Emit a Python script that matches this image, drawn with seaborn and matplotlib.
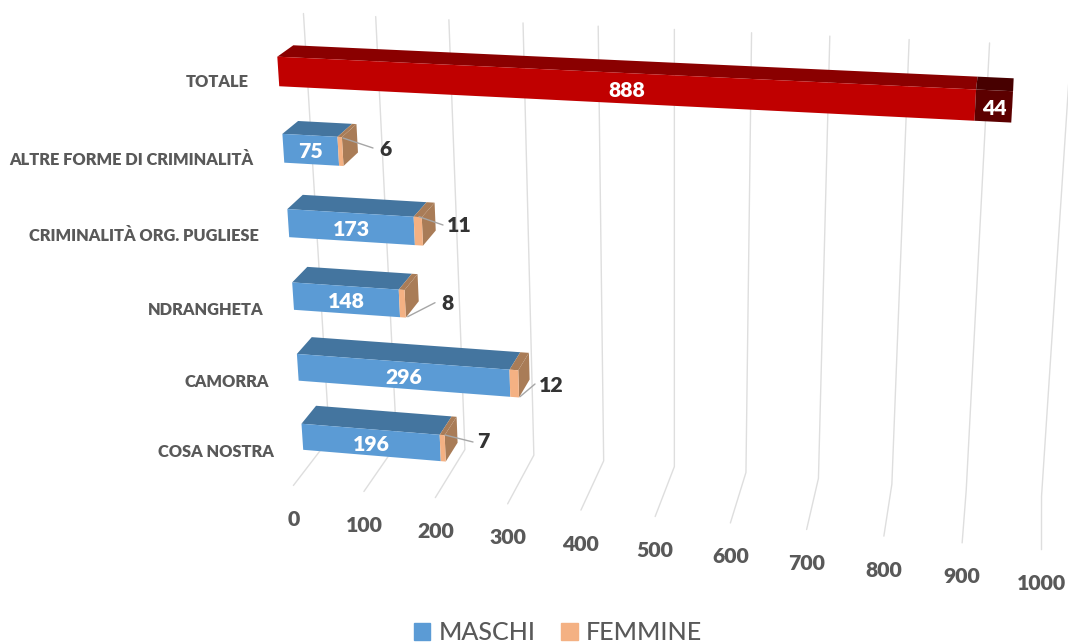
import numpy as np
import pandas as pd
import matplotlib
matplotlib.use('Agg')
import matplotlib.pyplot as plt
import seaborn as sns
from matplotlib.patches import Patch
from matplotlib.transforms import Affine2D, Transform

# Dati del grafico (dal basso verso l'alto)
categorie = ['COSA NOSTRA', 'CAMORRA', 'NDRANGHETA', 'CRIMINALITÀ ORG. PUGLIESE',
             'ALTRE FORME DI CRIMINALITÀ', 'TOTALE']
maschi = [196, 296, 148, 173, 75, 888]
femmine = [7, 12, 8, 11, 6, 44]
tacche = [0, 100, 200, 300, 400, 500, 600, 700, 800, 900, 1000]

# Colori: fronte, faccia superiore, fianco
col_maschi = ['#5B9BD5'] * 5 + ['#C00000']
col_maschi_top = ['#44759F'] * 5 + ['#8A0000']
col_femmine = ['#F4B183'] * 5 + ['#5C0000']
col_femmine_top = ['#A97C57'] * 5 + ['#470000']
col_femmine_lato = ['#A97C57'] * 5 + ['#470000']

# Profondità delle barre nella scatola 3D e spessore
Z_FRONTE, Z_RETRO = 0.3, 0.7
SPESSORE = 0.38

# Punti di calibrazione della prospettiva: valore, riga, profondità -> pixel
griglia_alto = [(0, 303, 14), (100, 376, 17), (200, 449, 20), (300, 523, 22.7), (800, 909, 40), (900, 989.3, 43)]
griglia_angolo = [(200, 464.3, 450), (300, 534, 456), (400, 603.3, 460.6), (500, 674, 466.7), (600, 745.7, 473.4),
                  (700, 818.5, 479.5), (800, 892, 482.5), (900, 967, 488), (1000, 1041.7, 497.6)]
griglia_piede = [(0, 293.3, 485), (100, 363.3, 491.7), (200, 435, 497.3), (300, 507.7, 503.3), (400, 581, 510.4),
                 (500, 655, 517.2), (600, 730, 523.6), (700, 806.7, 530.3), (800, 883.8, 536.4), (900, 961.5, 543),
                 (1000, 1041, 549.8)]
# per riga: fronte alto-sx, fronte basso-sx, fronte alto-dx, fronte basso-dx, retro alto-sx, retro alto-dx
angoli_barre = [
    [(301.7, 423.3), (302.7, 450), (445.7, 434), (446, 461.7), (316.7, 406), (456, 416.7)],
    [(297, 353.3), (298.3, 381.7), (519, 369.3), (520, 397), (312.7, 337.3), (528.7, 352.7)],
    [(292.3, 282.3), (293.7, 310.7), (405, 289), (406, 317.7), (307.3, 266.7), (417, 274)],
    [(287.3, 208.3), (289, 237.3), (423.3, 217.3), (423.3, 246), (303.3, 195), (434.3, 202.3)],
    [(282.3, 133.3), (284, 163.3), (341.7, 136.7), (343.3, 166.7), (297.7, 120.7), (356, 124)],
    [(277.3, 56), (279, 87.3), (1013, 90.7), (1011.7, 123.3), (293, 45), (1013.7, 77.7)],
]

# Etichette esterne e linee guida, in pixel
pos_esterne = [(483, 442), (551, 385), (448, 304), (459, 226), (385, 149)]
guida_da = [(445, 435), (520, 396.7), (407.7, 316.7), (419, 216.7), (343, 138)]
guida_a = [(473, 442), (535, 384), (435, 302.7), (443, 225), (373, 148)]


def calibra():
    punti = []
    for v, u, w in griglia_alto:
        punti.append((v, 6, 1, u, w))
    for v, u, w in griglia_angolo:
        punti.append((v, 0, 1, u, w))
    for v, u, w in griglia_piede:
        punti.append((v, 0, 0, u, w))
    for i, ang in enumerate(angoli_barre):
        tot = maschi[i] + femmine[i]
        su, giu = i + 0.5 + SPESSORE / 2, i + 0.5 - SPESSORE / 2
        terne = [(0, su, Z_FRONTE), (0, giu, Z_FRONTE), (tot, su, Z_FRONTE), (tot, giu, Z_FRONTE),
                 (0, su, Z_RETRO), (tot, su, Z_RETRO)]
        for (v, y, z), (u, w) in zip(terne, ang):
            punti.append((v, y, z, u, w))
    righe = []
    for v, y, z, u, w in punti:
        X = [v / 1000, y / 6, z, 1]
        u, w = u / 1000, w / 1000
        righe.append(X + [0, 0, 0, 0] + [-u * a for a in X])
        righe.append([0, 0, 0, 0] + X + [-w * a for a in X])
    return np.linalg.svd(np.array(righe))[2][-1].reshape(3, 4)


P = calibra()


def proietta(v, y, z):
    v, y, z = np.broadcast_arrays(np.asarray(v, float), np.asarray(y, float), np.asarray(z, float))
    X = np.stack([v / 1000, y / 6, z, np.ones_like(v)])
    q = P @ X
    return 1000 * q[0] / q[2], 1000 * q[1] / q[2]


class Prospettiva(Transform):
    input_dims = 2
    output_dims = 2

    def __init__(self, z):
        super().__init__()
        self.z = z

    def transform_non_affine(self, values):
        x, y = proietta(values[:, 0], values[:, 1] + 0.5, self.z)
        return np.column_stack([x, y])


sns.set_theme(style='white')
plt.rcParams['font.family'] = 'Lato'

fig, ax = plt.subplots(figsize=(10.68, 6.43), dpi=100)
ax.axis('off')
pix = Affine2D().scale(1, -1).translate(0, 643)

# Griglia: parete di fondo e pavimento
for t in tacche:
    xs, ys = proietta([t, t, t], [6, 0, 0], [1, 1, 0])
    ax.plot(xs, ys, color='#DEDEDE', lw=1, transform=pix, clip_on=False, zorder=0)
    ax.text(xs[2], ys[2] + 34, str(t), transform=pix, ha='center', va='center',
            fontsize=15.3, fontweight='heavy', color='#595959')

df = pd.DataFrame({'categoria': categorie, 'maschi': maschi, 'femmine': femmine})
sns.barplot(data=df, x='maschi', y='categoria', hue='categoria', order=categorie, hue_order=categorie,
            palette=col_maschi, width=SPESSORE, orient='h', legend=False, ax=ax, saturation=1)
n_maschi = len(ax.patches)
sns.barplot(data=df, x='femmine', y='categoria', hue='categoria', order=categorie, hue_order=categorie,
            palette=col_femmine, width=SPESSORE, orient='h', legend=False, ax=ax, saturation=1)

# Impila le femmine sopra i maschi
for b in ax.patches[n_maschi:]:
    b.set_x(maschi[int(round(b.get_y() + b.get_height() / 2))])

# Facce laterali e superiori a partire dalle barre di seaborn
for k, b in enumerate(ax.patches):
    riga = int(round(b.get_y() + b.get_height() / 2))
    b.set_transform(Prospettiva(Z_FRONTE) + pix)
    b.set_clip_on(False)
    b.set_zorder(3)
    b.set_linewidth(0)
    x0, x1 = b.get_x(), b.get_x() + b.get_width()
    su, giu = riga + 0.5 + SPESSORE / 2, riga + 0.5 - SPESSORE / 2
    e_maschi = k < n_maschi
    col_top = col_maschi_top[riga] if e_maschi else col_femmine_top[riga]
    xs, ys = proietta([x0, x1, x1, x0], su, [Z_FRONTE, Z_FRONTE, Z_RETRO, Z_RETRO])
    ax.fill(xs, ys, color=col_top, lw=0, transform=pix, clip_on=False, zorder=2)
    if not e_maschi:
        xs, ys = proietta(x1, [giu, su, su, giu], [Z_FRONTE, Z_FRONTE, Z_RETRO, Z_RETRO])
        ax.fill(xs, ys, color=col_femmine_lato[riga], lw=0, transform=pix, clip_on=False, zorder=2)

# Etichette di categoria e valori
for i, nome in enumerate(categorie):
    x, y = proietta(0, i + 0.5, 0)
    ax.text(x - 17.5, y + 1.5, nome, transform=pix, ha='right', va='center',
            fontsize=11.75, fontweight='heavy', color='#595959')
    # centro del segmento in pixel, non in valore
    xa, ya = proietta(0, i + 0.5, Z_FRONTE)
    xb, yb = proietta(maschi[i], i + 0.5, Z_FRONTE)
    ax.text((xa + xb) / 2, (ya + yb) / 2 + 2, str(maschi[i]), transform=pix, ha='center', va='center',
            fontsize=15.3, fontweight='heavy', color='white', zorder=5)
    if i < 5:
        ax.plot([guida_da[i][0], guida_a[i][0]], [guida_da[i][1], guida_a[i][1]], color='#A6A6A6', lw=1,
                transform=pix, clip_on=False, zorder=4)
        ax.text(*pos_esterne[i], str(femmine[i]), transform=pix, ha='center', va='center',
                fontsize=15.3, fontweight='heavy', color='#333333', zorder=5)
    else:
        x, y = proietta(maschi[i] + femmine[i] / 2, i + 0.5, Z_FRONTE)
        ax.text(x + 1, y + 2, str(femmine[i]), transform=pix, ha='center', va='center',
                fontsize=15.3, fontweight='heavy', color='white', zorder=5)

maniglie = [Patch(color='#5B9BD5', label='MASCHI'), Patch(color='#F4B183', label='FEMMINE')]
fig.legend(handles=maniglie, loc='lower center', ncol=2, frameon=False, prop={'size': 18, 'weight': 'medium'},
           labelcolor='#595959', handlelength=0.65, handleheight=0.65, handletextpad=0.32, columnspacing=1.04,
           bbox_to_anchor=(0.5225, -0.037))

fig.savefig('out.png', dpi=100)
